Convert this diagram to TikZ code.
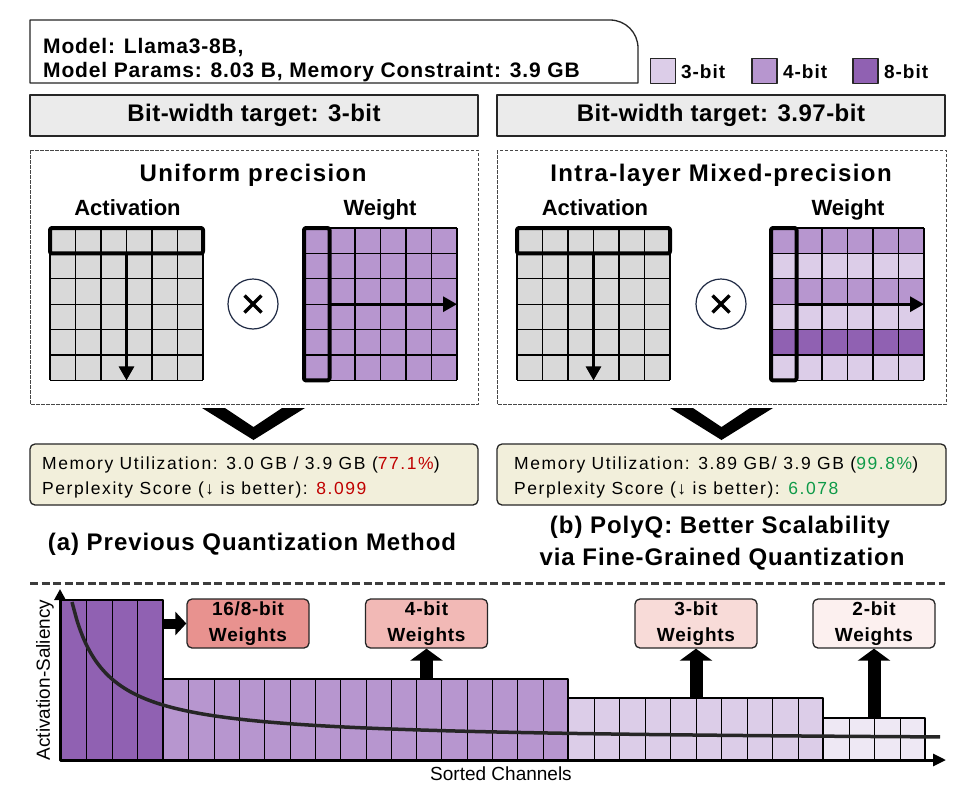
\documentclass[tikz,border=0pt]{standalone}
\usepackage{fontspec}
\setmainfont{Liberation Sans}
\newfontfamily\fTitle[LetterSpace=6]{Liberation Sans}
\newfontfamily\fBar[LetterSpace=2]{Liberation Sans}
\newfontfamily\fTop[LetterSpace=4]{Liberation Sans}
\newfontfamily\fLeg[LetterSpace=5]{Liberation Sans}
\newfontfamily\fRes[LetterSpace=9]{Liberation Sans}
\newfontfamily\fCap[LetterSpace=4]{Liberation Sans}
\newfontfamily\fWt[LetterSpace=4]{Liberation Sans}
\usetikzlibrary{arrows.meta}
\definecolor{gcell}{HTML}{D9D9D9}
\definecolor{cthree}{HTML}{DCCDE8}
\definecolor{cfour}{HTML}{B796CF}
\definecolor{ceight}{HTML}{9061B2}
\definecolor{ctwo}{HTML}{EEE8F4}
\definecolor{barbg}{HTML}{EBEBEB}
\definecolor{resbg}{HTML}{F2EFDB}
\definecolor{wA}{HTML}{E8928F}
\definecolor{wB}{HTML}{F2B9B6}
\definecolor{wC}{HTML}{F8DBD8}
\definecolor{wD}{HTML}{FCF0EF}
\definecolor{redt}{HTML}{C00000}
\definecolor{greent}{HTML}{0E9A48}
\definecolor{edge}{HTML}{262626}
\definecolor{navy}{HTML}{1F2A44}
\newcommand\actgrid[2]{%
  \fill[gcell] (#1,#2) rectangle ++(153,152.4);
  \foreach \i in {0,...,6} {\draw[gridline] ({#1+\i*25.5},#2) -- ++(0,152.4);
    \draw[gridline] (#1,{#2+\i*25.4}) -- ++(153,0);}
  \draw[hl] (#1,#2) rectangle ++(153,25.4);
  \draw[garrow] ({#1+76.5},{#2+25.4}) -- ({#1+76.5},{#2+152.4});
}
\newcommand\wgrid[3]{%
  \foreach \r/\c in {#3} {\fill[\c] (#1,{#2+\r*25.4}) rectangle ++(153,25.4);}
  \foreach \i in {0,...,6} {\draw[gridline] ({#1+\i*25.5},#2) -- ++(0,152.4);
    \draw[gridline] (#1,{#2+\i*25.4}) -- ++(153,0);}
  \draw[hl] (#1,#2) rectangle ++(25.5,152.4);
  \draw[garrow] ({#1+25.5},{#2+76.2}) -- ({#1+153},{#2+76.2});
}
\newcommand\colblock[5]{% x0 x1 top n color
  \fill[#5] (#1,#3) rectangle (#2,760);
  \foreach \i in {1,...,#4} {\draw[gridline] ({round(#1+\i*(#2-#1)/#4)+0.5},#3) -- ({round(#1+\i*(#2-#1)/#4)+0.5},760);}
  \draw[line width=2.5pt, black] (#1,760) -- (#1,#3) -- (#2,#3) -- (#2,760);
}
\begin{document}
\begin{tikzpicture}[x=1pt,y=-1pt, line join=round,
  gridline/.style={line width=1.3pt, black},
  hl/.style={line width=4pt, black, rounded corners=2pt},
  garrow/.style={line width=3pt, -{Triangle[width=15pt,length=14pt]}},
  barbox/.style={draw=edge, line width=1.3pt, fill=barbg},
  panel/.style={draw=edge!85, line width=0.9pt, dash pattern=on 3.5pt off 1.5pt},
  resbox/.style={draw=edge, line width=1.3pt, fill=resbg, rounded corners=5pt},
  wbox/.style={draw=edge, line width=1.3pt, rounded corners=5pt, minimum width=122pt, minimum height=49pt, inner sep=0pt, align=center, font=\fWt\bfseries\fontsize{19}{26}\selectfont},
  legsq/.style={draw=edge, line width=1.3pt, minimum width=25pt, minimum height=25pt, inner sep=0pt},
  legtxt/.style={anchor=base west, inner sep=0pt, font=\fLeg\bfseries\fontsize{19}{22}\selectfont},
  bartxt/.style={anchor=base, inner sep=0pt, font=\fBar\bfseries\fontsize{24}{28}\selectfont},
  ttl/.style={anchor=base, inner sep=0pt, font=\fTitle\bfseries\fontsize{24}{28}\selectfont},
  sub/.style={anchor=base, inner sep=0pt, font=\bfseries\fontsize{22}{26}\selectfont},
  restxt/.style={anchor=base west, inner sep=0pt, font=\fRes\fontsize{17.5}{20}\selectfont},
  captxt/.style={anchor=base, inner sep=0pt, font=\fCap\bfseries\fontsize{24}{28}\selectfont},
  fatup/.style={line width=13pt, -{Triangle[width=32pt,length=12pt]}},
  fatright/.style={line width=10pt, -{Triangle[width=23pt,length=11pt]}},
  mul/.style={circle, draw=navy, line width=1.2pt, minimum size=50pt, inner sep=0pt},
]
\useasboundingbox (0,0) rectangle (970,790);
\fill[white] (0,0) rectangle (970,790);

% ---------- top info box ----------
\draw[draw=edge, line width=1.3pt] (30,83) -- (30,20) -- (610,20) .. controls (625.5,20) and (638,32.5) .. (638,48) -- (638,83) -- cycle;
\node[anchor=base west, inner sep=0pt, font=\fTop\bfseries\fontsize{21}{24}\selectfont] (model) at (43,53) {Model: Llama3-8B,};
\node[anchor=base west, inner sep=0pt, font=\fTop\bfseries\fontsize{21}{24}\selectfont] (params) at (43,77) {Model Params: 8.03 B, Memory Constraint: 3.9 GB};

% ---------- legend ----------
\node[legsq, fill=cthree] (lg3) at (663,70.8) {};
\node[legtxt] (lg3t) at (681,78) {3-bit};
\node[legsq, fill=cfour] (lg4) at (764.5,70.8) {};
\node[legtxt] (lg4t) at (783,78) {4-bit};
\node[legsq, fill=ceight] (lg8) at (865.5,70.8) {};
\node[legtxt] (lg8t) at (884,78) {8-bit};

% ---------- bit-width bars ----------
\draw[barbox] (30,95) rectangle (478,136);
\node[bartxt] (bwL) at (254,121) {Bit-width target: 3-bit};
\draw[barbox] (497,95) rectangle (945,136);
\node[bartxt] (bwR) at (721,121) {Bit-width target: 3.97-bit};

% ---------- panels ----------
\draw[panel] (30,150) rectangle (478,404);
\draw[panel] (497,150) rectangle (946,404);
\node[ttl] (ttlL) at (253,181) {Uniform precision};
\node[ttl] (ttlR) at (721,181) {Intra-layer Mixed-precision};
\node[sub] (actL) at (127.5,215) {Activation};
\node[sub] (wL) at (380,215) {Weight};
\node[sub] (actR) at (595,215) {Activation};
\node[sub] (wR) at (848,215) {Weight};

\actgrid{50}{228}
\wgrid{304}{228}{0/cfour,1/cfour,2/cfour,3/cfour,4/cfour,5/cfour}
\actgrid{517}{228}
\wgrid{771}{228}{0/cfour,1/cthree,2/cfour,3/cthree,4/ceight,5/cthree}

\node[mul] (mulL) at (253,304) {};
\draw[line width=3.5pt] ([shift={(-8.5,-8.5)}]mulL.center) -- ([shift={(8.5,8.5)}]mulL.center);
\draw[line width=3.5pt] ([shift={(-8.5,8.5)}]mulL.center) -- ([shift={(8.5,-8.5)}]mulL.center);
\node[mul] (mulR) at (721,304) {};
\draw[line width=3.5pt] ([shift={(-8.5,-8.5)}]mulR.center) -- ([shift={(8.5,8.5)}]mulR.center);
\draw[line width=3.5pt] ([shift={(-8.5,8.5)}]mulR.center) -- ([shift={(8.5,-8.5)}]mulR.center);

% ---------- chevrons ----------
\fill (202,408) -- (253.5,440) -- (305,408) -- (282,408) -- (253.5,427) -- (225,408) -- cycle;
\fill (670,408) -- (721.5,440) -- (773,408) -- (750,408) -- (721.5,427) -- (693,408) -- cycle;

% ---------- result boxes ----------
\draw[resbox] (30,444) rectangle (478,505);
\node[restxt] (memL) at (42,469) {Memory Utilization: 3.0 GB / 3.9 GB ({\color{redt}77.1\%})};
\node[restxt] (pplL) at (42,494) {Perplexity Score (↓ is better): {\color{redt}8.099}};
\draw[resbox] (497,444) rectangle (946,505);
\node[restxt] (memR) at (514,469) {Memory Utilization: 3.89 GB/ 3.9 GB ({\color{greent}99.8\%})};
\node[restxt] (pplR) at (514,494) {Perplexity Score (↓ is better): {\color{greent}6.078}};

% ---------- captions ----------
\node[captxt] (capA) at (252,550) {(a) Previous Quantization Method};
\node[captxt] (capB1) at (720,533) {(b) PolyQ: Better Scalability};
\node[captxt] (capB2) at (722,565) {via Fine-Grained Quantization};

% ---------- separator ----------
\draw[line width=3pt, draw=edge!90, dash pattern=on 8pt off 3.5pt] (30,583) -- (945,583);

% ---------- bottom chart ----------
\colblock{60}{163}{600}{4}{ceight}
\colblock{163}{568}{679}{16}{cfour}
\colblock{568}{823}{698}{10}{cthree}
\colblock{823}{925}{718}{4}{ctwo}
\draw[line width=3.5pt, edge] plot[domain=72:940, samples=150, smooth] (\x, {742-4578/(\x-39.3)});

\coordinate (O) at (60,760);
\coordinate (ytop) at (60,589);
\coordinate (xend) at (946,760);
\draw[line width=3pt, {Triangle[width=11pt,length=11pt]}-{Triangle[width=12pt,length=13pt]}] (ytop) -- (O) -- (xend);
\node[rotate=90, inner sep=0pt, font=\fontsize{19}{22}\selectfont] (ylab) at (45,680) {Activation-Saliency};
\node[anchor=base, inner sep=0pt, font=\fontsize{19}{22}\selectfont] (xlab) at (501,780) {Sorted Channels};

\node[wbox, fill=wA] (w16) at (248,623.5) {16/8-bit\\Weights};
\node[wbox, fill=wB] (w4) at (426.5,623.5) {4-bit\\Weights};
\node[wbox, fill=wC] (w3) at (696,623.5) {3-bit\\Weights};
\node[wbox, fill=wD] (w2) at (874,623.5) {2-bit\\Weights};

\coordinate (s16) at (163,623.5);
\coordinate (s4) at (426.5,679);
\coordinate (s3) at (696,698);
\coordinate (s2) at (874,718);
\draw[fatright] (s16) -- (w16.west);
\draw[fatup] (s4) -- (w4.south);
\draw[fatup] (s3) -- (w3.south);
\draw[fatup] (s2) -- (w2.south);
\end{tikzpicture}
\end{document}
